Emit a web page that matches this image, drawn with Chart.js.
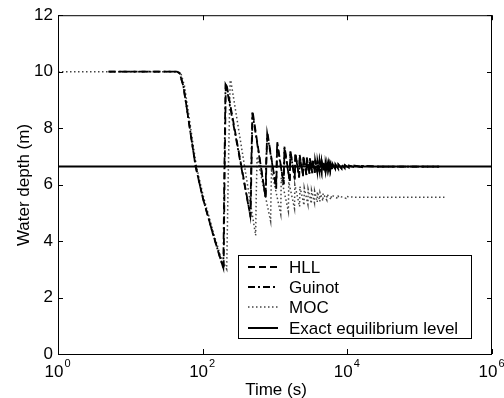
<!DOCTYPE html>
<html>
<head>
<meta charset="utf-8">
<script src="https://cdn.jsdelivr.net/npm/chart.js@4.4.1/dist/chart.umd.min.js"></script>
<style>
  body { margin: 0; background: #fff; }
</style>
</head>
<body>
<canvas id="depthChart" width="504" height="398"></canvas>
<script>
// Tick values
const yTicks = [0, 2, 4, 6, 8, 10, 12];
const xTickExponents = [0, 2, 4, 6];

// HLL scheme (time in s, depth in m)
const hllTime = [5, 44, 48, 54, 60, 70, 80, 100, 138, 170, 195, 201, 209, 214,
  460, 472, 490, 745, 760, 785, 1040, 1075, 1320, 1355, 1600, 1635, 1880, 1915,
  2160, 2195, 2440, 2475, 2720, 2755, 3000, 3035, 3280, 3315, 3560, 3595, 3840, 3875,
  4120, 4155, 4400, 4435, 4680, 4715, 4960, 4995, 5240, 5275, 5520, 5555, 5800, 5835,
  6200, 6235, 6800, 6835, 7500, 7535, 8300, 8335, 9200, 9235, 10500, 10535,
  12500, 12535, 16000, 16035, 25000, 198000];
const hllDepth = [10, 10, 9.95, 9.5, 8.75, 7.6, 6.64, 5.55, 4.27, 3.5, 3.0, 6.3, 9.6, 9.55,
  4.85, 6.5, 8.6, 5.5, 6.8, 7.85, 5.85, 7.5, 6.0, 7.35, 6.1, 7.2, 6.18, 7.12,
  6.25, 7.05, 6.3, 7.0, 6.34, 6.96, 6.37, 6.93, 6.4, 6.9, 6.42, 6.87, 6.44, 6.85,
  6.46, 6.83, 6.47, 6.81, 6.49, 6.8, 6.5, 6.78, 6.51, 6.77, 6.52, 6.76, 6.53, 6.75,
  6.54, 6.74, 6.55, 6.72, 6.56, 6.71, 6.57, 6.7, 6.58, 6.69, 6.6, 6.68,
  6.61, 6.67, 6.62, 6.66, 6.64, 6.64];

// Guinot scheme
const guinotTime = [5, 44, 48, 54, 60, 70, 80, 100, 138, 170, 193, 199, 207, 212,
  455, 468, 487, 740, 755, 780, 1035, 1070, 1315, 1350, 1595, 1630, 1875, 1910,
  2155, 2190, 2435, 2470, 2715, 2750, 2995, 3030, 3275, 3310, 3555, 3590, 3835, 3870,
  4115, 4150, 4395, 4430, 4675, 4710, 4955, 4990, 5235, 5270, 5515, 5550, 5795, 5830,
  6190, 6225, 6790, 6825, 7490, 7525, 8290, 8325, 9190, 9225, 10490, 10525,
  12490, 12525, 15990, 16025, 25000, 198000];
const guinotDepth = [10, 10, 9.95, 9.5, 8.75, 7.6, 6.64, 5.55, 4.27, 3.5, 3.05, 6.3, 9.55, 9.5,
  4.9, 6.5, 8.55, 5.55, 6.8, 7.8, 5.9, 7.45, 6.02, 7.3, 6.12, 7.18, 6.2, 7.1,
  6.26, 7.03, 6.31, 6.98, 6.35, 6.95, 6.38, 6.92, 6.41, 6.89, 6.43, 6.86, 6.45, 6.84,
  6.47, 6.82, 6.48, 6.8, 6.5, 6.79, 6.51, 6.77, 6.52, 6.76, 6.53, 6.75, 6.54, 6.74,
  6.55, 6.73, 6.56, 6.72, 6.57, 6.71, 6.58, 6.7, 6.59, 6.69, 6.6, 6.68,
  6.61, 6.67, 6.62, 6.66, 6.64, 6.64];

// Method of characteristics
const mocTime = [1, 44, 50, 56, 62, 72, 82, 103, 142, 175, 215, 226, 240, 246,
  540, 550, 565, 870, 880, 895, 1200, 1220, 1530, 1550, 1860, 1880, 2190, 2210,
  2520, 2540, 2850, 2870, 3180, 3200, 3510, 3530, 3840, 3860, 4170, 4190,
  4600, 4620, 5200, 5220, 6000, 6020, 7500, 7520, 9500, 9520, 13000, 220000];
const mocDepth = [10, 10, 9.95, 9.5, 8.75, 7.6, 6.64, 5.55, 4.27, 3.5, 3.0, 6.4, 9.7, 9.65,
  4.2, 5.6, 7.0, 4.7, 5.6, 6.5, 4.95, 6.25, 5.05, 6.1, 5.15, 6.0, 5.22, 5.93,
  5.27, 5.88, 5.3, 5.84, 5.33, 5.8, 5.36, 5.77, 5.38, 5.74, 5.4, 5.72,
  5.42, 5.69, 5.45, 5.66, 5.47, 5.63, 5.5, 5.6, 5.52, 5.58, 5.55, 5.55];

// Exact equilibrium level
const exactTime = [1, 1000000];
const exactDepth = [6.64, 6.64];

const FONT = '"Liberation Sans", Arial, Helvetica, sans-serif';

function toPoints(ts, ys) {
  return ts.map((t, i) => ({ x: t, y: ys[i] }));
}

// Draws the MATLAB style box, inward ticks, x labels, axis titles and legend
const matlabFrame = {
  id: 'matlabFrame',
  afterDraw(chart) {
    const ctx = chart.ctx;
    const a = chart.chartArea;
    const xs = chart.scales.x;
    const ys = chart.scales.y;
    ctx.save();
    ctx.strokeStyle = '#000';
    ctx.lineWidth = 1;
    ctx.setLineDash([]);
    ctx.strokeRect(a.left + 0.5, a.top + 0.5, a.right - a.left - 1, a.bottom - a.top);

    // inward ticks
    ctx.beginPath();
    yTicks.forEach(v => {
      const py = Math.round(ys.getPixelForValue(v)) + 0.5;
      ctx.moveTo(a.left, py); ctx.lineTo(a.left + 5, py);
      ctx.moveTo(a.right, py); ctx.lineTo(a.right - 5, py);
    });
    xTickExponents.forEach(e => {
      const px = Math.round(xs.getPixelForValue(Math.pow(10, e))) + 0.5;
      ctx.moveTo(px, a.bottom); ctx.lineTo(px, a.bottom - 5);
      ctx.moveTo(px, a.top); ctx.lineTo(px, a.top + 5);
    });
    ctx.stroke();

    // x tick labels as 10 with superscript
    ctx.fillStyle = '#000';
    ctx.textBaseline = 'alphabetic';
    xTickExponents.forEach(e => {
      const px = xs.getPixelForValue(Math.pow(10, e));
      ctx.font = '17px ' + FONT;
      const wBase = ctx.measureText('10').width;
      ctx.font = '11px ' + FONT;
      const wExp = ctx.measureText(String(e)).width;
      const x0 = px - (wBase + wExp) / 2 - 1;
      ctx.font = '17px ' + FONT;
      ctx.textAlign = 'left';
      ctx.fillText('10', x0, 377);
      ctx.font = '11px ' + FONT;
      ctx.fillText(String(e), x0 + wBase + 1, 367);
    });

    // axis titles
    ctx.font = '17px ' + FONT;
    ctx.textAlign = 'center';
    ctx.textBaseline = 'middle';
    ctx.fillText('Time (s)', (a.left + a.right) / 2 + 1, 390);
    ctx.save();
    ctx.translate(24, 185);
    ctx.rotate(-Math.PI / 2);
    ctx.fillText('Water depth (m)', 0, 0);
    ctx.restore();

    // legend
    const lx = 238, ly = 255, lw = 233, lh = 83;
    ctx.fillStyle = '#fff';
    ctx.fillRect(lx, ly, lw, lh);
    ctx.strokeStyle = '#000';
    ctx.lineWidth = 1;
    ctx.strokeRect(lx + 0.5, ly + 0.5, lw, lh);
    const rows = [267, 287, 307, 328];
    chart.data.datasets.forEach((ds, i) => {
      const ry = rows[i];
      ctx.beginPath();
      ctx.strokeStyle = ds.borderColor;
      ctx.lineWidth = ds.borderWidth;
      ctx.setLineDash(ds.borderDash || []);
      ctx.moveTo(248, ry);
      ctx.lineTo(278, ry);
      ctx.stroke();
      ctx.setLineDash([]);
      ctx.fillStyle = '#000';
      ctx.font = '17px ' + FONT;
      ctx.textAlign = 'left';
      ctx.textBaseline = 'middle';
      ctx.fillText(ds.label, 289, ry + 1);
    });
    ctx.restore();
  }
};

function initializeChart() {
  const ctx = document.getElementById('depthChart').getContext('2d');
  return new Chart(ctx, {
    type: 'line',
    data: {
      datasets: [
        {
          label: 'HLL',
          data: toPoints(hllTime, hllDepth),
          borderColor: '#000',
          borderWidth: 1.8,
          borderDash: [7, 4],
          order: 3
        },
        {
          label: 'Guinot',
          data: toPoints(guinotTime, guinotDepth),
          borderColor: '#000',
          borderWidth: 1.8,
          borderDash: [7, 3, 2, 3],
          order: 2
        },
        {
          label: 'MOC',
          data: toPoints(mocTime, mocDepth),
          borderColor: '#444',
          borderWidth: 1.5,
          borderDash: [1.5, 2.5],
          order: 4
        },
        {
          label: 'Exact equilibrium level',
          data: toPoints(exactTime, exactDepth),
          borderColor: '#000',
          borderWidth: 2,
          order: 1
        }
      ]
    },
    options: {
      responsive: false,
      animation: false,
      events: [],
      elements: {
        point: { radius: 0 },
        line: { tension: 0, fill: false }
      },
      layout: { padding: { top: 14, right: 12, left: 0, bottom: 0 } },
      plugins: {
        legend: { display: false },
        tooltip: { enabled: false }
      },
      scales: {
        x: {
          type: 'logarithmic',
          min: 1,
          max: 1000000,
          ticks: { display: false },
          grid: { display: false, drawTicks: false },
          border: { display: false },
          afterFit: s => { s.height = 44; }
        },
        y: {
          min: 0,
          max: 12,
          ticks: {
            stepSize: 2,
            color: '#000',
            padding: 5,
            font: { family: FONT, size: 17 }
          },
          grid: { display: false, drawTicks: false },
          border: { display: false },
          afterFit: s => { s.width = 58; }
        }
      }
    },
    plugins: [matlabFrame]
  });
}

initializeChart();
</script>
</body>
</html>
